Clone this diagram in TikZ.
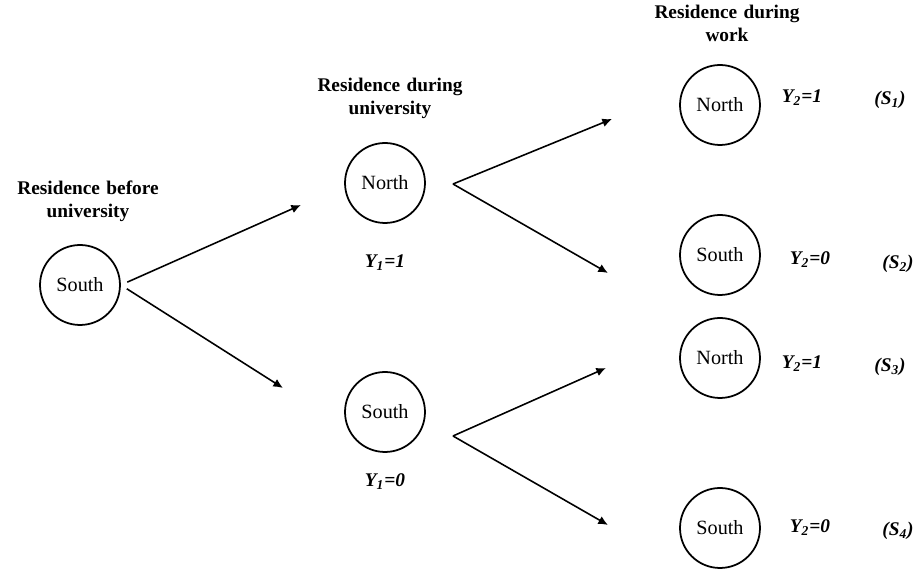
\documentclass[tikz,border=0pt]{standalone}
\usepackage{fontspec}
\setmainfont{Liberation Serif}
\usepackage{tikz}
\usetikzlibrary{shapes,arrows,arrows.meta,positioning}
\newcommand*{\yv}[2]{\textbf{\textit{Y\textsubscript{#1}=#2}}}
\newcommand*{\sv}[1]{\textbf{\textit{(S\textsubscript{#1})}}}

\begin{document}
\begin{tikzpicture}[x=0.02cm, y=-0.02cm,
block_circle/.style ={circle, draw=black, line width=1pt, fill=white, minimum size=1.6cm, inner sep=0pt, font=\fontsize{11.5}{13}\selectfont},
block_head/.style ={rectangle, draw=none, fill=none, text width=3.6cm, align=center, font=\fontsize{11}{13}\selectfont\bfseries},
block_noborder/.style ={rectangle, draw=none, fill=none, inner sep=1pt, font=\fontsize{11}{13}\selectfont},
line/.style ={draw, line width=0.9pt, -{Latex[length=5.5pt,width=5pt]}, shorten >=0pt}]
  \useasboundingbox (0,0) rectangle (921,570);
  % before university - column 1
    \node [block_head] (head0) at (88,201) {Residence before\\ university};
    \node [block_circle] (south0) at (80,285) {South};
  % during university - column 2
    \node [block_head] (head1) at (390,98) {Residence during\\ university};
    \node [block_circle] (north1) at (385,183) {North};
    \node [block_noborder] (y1_north) at (385,263) {\yv{1}{1}};
    \node [block_circle] (south1) at (385,412) {South};
    \node [block_noborder] (y1_south) at (385,482) {\yv{1}{0}};
  % during work - column 3
    \node [block_head] (head2) at (727,23) {Residence during\\ work};
    \node [block_circle] (north21) at (720,105) {North};
    \node [block_circle] (south22) at (720,255) {South};
    \node [block_circle] (north23) at (720,358) {North};
    \node [block_circle] (south24) at (720,528) {South};
    \node [block_noborder] (y2_1) at (802,98) {\yv{2}{1}};
    \node [block_noborder] (y2_2) at (810,260) {\yv{2}{0}};
    \node [block_noborder] (y2_3) at (802,364) {\yv{2}{1}};
    \node [block_noborder] (y2_4) at (810,528) {\yv{2}{0}};
    \node [block_noborder] (s_1) at (890,100) {\sv{1}};
    \node [block_noborder] (s_2) at (898,264) {\sv{2}};
    \node [block_noborder] (s_3) at (890,367) {\sv{3}};
    \node [block_noborder] (s_4) at (898,531) {\sv{4}};
  % arrow ends
    \coordinate (fork1n) at (453,184);
    \coordinate (fork1s) at (453,436);
    \coordinate (tip0n) at (301,205);
    \coordinate (tip0s) at (283,388);
    \coordinate (tip21) at (612,119);
    \coordinate (tip22) at (608,273);
    \coordinate (tip23) at (606,368);
    \coordinate (tip24) at (608,525);
  % connecting nodes with paths
    \begin{scope}[every path/.style=line]
      \path [shorten <=4pt] (south0.east) -- (tip0n);
      \path [shorten <=4pt] (south0.east) -- (tip0s);
      \path (fork1n) -- (tip21);
      \path (fork1n) -- (tip22);
      \path (fork1s) -- (tip23);
      \path (fork1s) -- (tip24);
    \end{scope}
\end{tikzpicture}
\end{document}
